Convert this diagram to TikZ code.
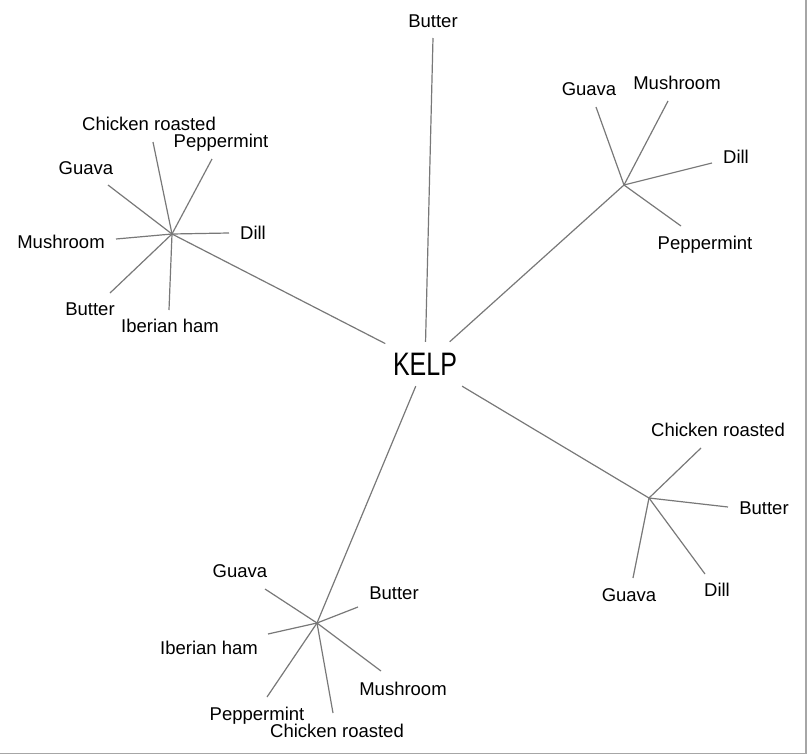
\documentclass[tikz,border=0pt]{standalone}
\usepackage{fontspec}
\setmainfont{Liberation Sans}
\definecolor{edgegray}{RGB}{120,120,120}
\begin{document}
\begin{tikzpicture}[x=1pt,y=-1pt,
  edge/.style={edgegray,line width=1.2pt},
  leaf/.style={inner sep=0pt,text height=13.5pt,text depth=0pt,font=\fontsize{18.5}{20}\selectfont}]
\useasboundingbox (0,0) rectangle (807,755);
\draw[gray!70,line width=1.5pt] (0,753.5)--(806,753.5)--(806,0);
 \node[inner sep=0pt,minimum width=79pt,minimum height=44pt,font=\fontsize{25}{30}\selectfont] (kelp) at (425,364) {\scalebox{1}[1.3]{KELP}};
 \coordinate (top) at (433,38);
 \coordinate (ul) at (172,234);
 \coordinate (ur) at (624,185);
 \coordinate (lr) at (649,498);
 \coordinate (ll) at (317,623);
 \node[leaf] (top-t) at (433,21) {Butter};
 \foreach \h in {top,ul,ur,lr,ll} \draw[edge] (kelp)--(\h);
 \foreach \n/\ex/\ey/\lx/\ly/\t in {cr/153/142/149/124/Chicken roasted, pe/212/159/221/141/Peppermint,
   gu/108/185/86/168/Guava, mu/116/239/61/242/Mushroom, di/229/233/253/233/Dill,
   bu/110/293/90/309/Butter, ih/169/310/170/326/Iberian ham}{
  \coordinate (ul-\n) at (\ex,\ey);
  \node[leaf] (ul-\n-t) at (\lx,\ly) {\t};
  \draw[edge] (ul)--(ul-\n);}
 \foreach \n/\ex/\ey/\lx/\ly/\t in {gu/596/107/589/89/Guava, mu/668/101/677/83/Mushroom,
   di/712/163/736/157/Dill, pe/681/226/705/243/Peppermint}{
  \coordinate (ur-\n) at (\ex,\ey);
  \node[leaf] (ur-\n-t) at (\lx,\ly) {\t};
  \draw[edge] (ur)--(ur-\n);}
 \foreach \n/\ex/\ey/\lx/\ly/\t in {cr/701/448/718/430/Chicken roasted, bu/728/507/764/508/Butter,
   gu/633/578/629/595/Guava, di/705/574/717/590/Dill}{
  \coordinate (lr-\n) at (\ex,\ey);
  \node[leaf] (lr-\n-t) at (\lx,\ly) {\t};
  \draw[edge] (lr)--(lr-\n);}
 \foreach \n/\ex/\ey/\lx/\ly/\t in {gu/265/589/240/571/Guava, bu/358/607/394/593/Butter,
   ih/268/634/209/648/Iberian ham, pe/267/697/257/714/Peppermint,
   mu/381/671/403/689/Mushroom, cr/333/713/337/731/Chicken roasted}{
  \coordinate (ll-\n) at (\ex,\ey);
  \node[leaf] (ll-\n-t) at (\lx,\ly) {\t};
  \draw[edge] (ll)--(ll-\n);}
\end{tikzpicture}
\end{document}
